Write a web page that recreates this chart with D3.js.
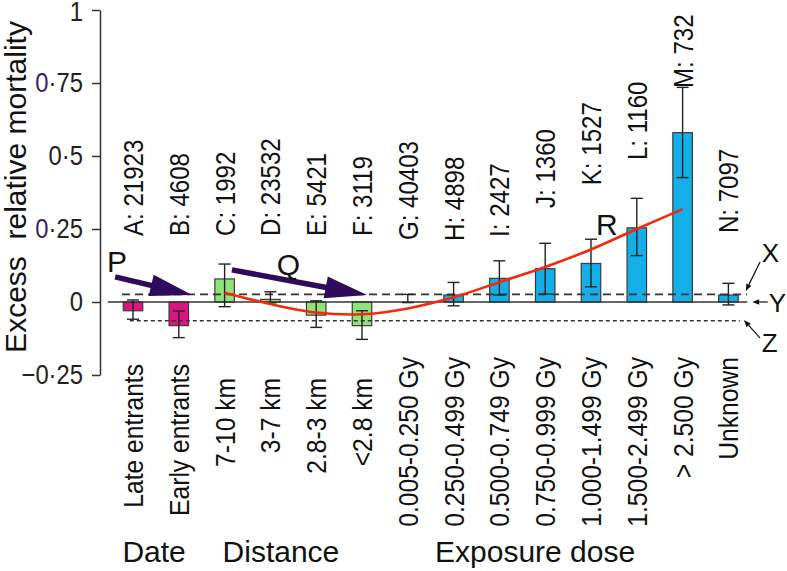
<!DOCTYPE html>
<html><head><meta charset="utf-8">
<script src="https://cdn.jsdelivr.net/npm/d3@7"></script>
<style>
body{margin:0;background:#fff}
svg text{font-family:"Liberation Sans",Arial,Helvetica,sans-serif}
</style>
</head><body>
<svg id="chart" width="787" height="571"></svg>
<script>
// ---------- data ----------
const categories = ["Late entrants","Early entrants","7-10 km","3-7 km","2.8-3 km","<2.8 km",
  "0.005-0.250 Gy","0.250-0.499 Gy","0.500-0.749 Gy","0.750-0.999 Gy","1.000-1.499 Gy",
  "1.500-2.499 Gy","> 2.500 Gy","Unknown"];
const countLabels = ["A: 21923","B: 4608","C: 1992","D: 23532","E: 5421","F: 3119","G: 40403",
  "H: 4898","I: 2427","J: 1360","K: 1527","L: 1160","M: 732","N: 7097"];
const groupOf = ["Date","Date","Distance","Distance","Distance","Distance","Dose","Dose","Dose",
  "Dose","Dose","Dose","Dose","Dose"];
const values  = [-0.030,-0.081,0.079,0.009,-0.045,-0.081,0.000,0.024,0.081,0.114,0.132,0.254,0.580,0.024];
const errLow  = [-0.059,-0.122,-0.016,-0.003,-0.087,-0.128,-0.002,-0.013,0.024,0.027,0.052,0.159,0.426,-0.010];
const errHigh = [0.007,-0.031,0.130,0.035,0.004,-0.030,0.026,0.067,0.141,0.201,0.215,0.355,0.735,0.064];
// fitted trend (red curve): category index and value
const fitIndex  = [2,3,4,5,6,7,8,9,10,11,12];
const fitValues = [0.032,-0.007,-0.036,-0.042,-0.022,0.016,0.068,0.120,0.180,0.250,0.318];
// reference lines
const upperRef = 0.026;   // X
const lowerRef = -0.064;  // Z
// y axis
const yTicks = [1,0.75,0.5,0.25,0,-0.25];
const yTickLabels = ["1","0·75","0·5","0·25","0","−0·25"];
// count label anchors (value units)
const countLabelAt = [0.226,0.226,0.226,0.226,0.226,0.226,0.212,0.209,0.223,0.322,0.400,0.486,0.733,0.236];
// group titles: name and centre (category index units)
const groupNames = ["Date","Distance","Exposure dose"];
const groupCentres = [0.46,3.23,8.78];

// ---------- setup ----------
const svg = d3.select("#chart");
const W = 787, H = 571;
svg.append("rect").attr("width",W).attr("height",H).attr("fill","#fff");

const xi = d3.scaleLinear().domain([0,13]).range([133,728.4]);
const y = d3.scaleLinear().domain([-0.25,1]).range([375,10]);
const bw = 19.5;
const colour = {Date:"#dc1481", Distance:"#92e27a", Dose:"#14aee8"};
const catLabelTop = {Date:364, Distance:378, Dose:357};
const ink = "#222";

// y axis
const yAxis = d3.axisLeft(y).tickValues(yTicks).tickSize(8).tickSizeOuter(0).tickPadding(9)
  .tickFormat((d,i)=>yTickLabels[i]);
const gy = svg.append("g").attr("transform","translate(100,0)").call(yAxis);
gy.select(".domain").attr("stroke","#333").attr("stroke-width",1.5);
gy.selectAll(".tick line").attr("stroke","#333").attr("stroke-width",1.5);
gy.selectAll(".tick text").style("font-size","28px").attr("fill","#222")
  .each(function(d,i){
    const t = d3.select(this); const lab = yTickLabels[i];
    const x0 = +t.attr("x");
    t.attr("x",0).attr("transform",`translate(${x0},${d===1?1.5:0}) scale(0.85,1)`);
    if (d===0.75 || d===0.25){
      t.text(null);
      t.append("tspan").attr("fill","#3b1d6e").text(lab[0]);
      t.append("tspan").text(lab.slice(1));
    }
  });

// y title
svg.append("text")
  .attr("transform","translate(26,187) rotate(-90)")
  .attr("text-anchor","middle").style("font-size","30px").style("white-space","pre")
  .attr("fill","#111").text("Excess  relative mortality");

// bars
svg.append("g").selectAll("rect").data(values).join("rect")
  .attr("x",(d,i)=>xi(i)-bw/2)
  .attr("y",d=>y(Math.max(d,0)))
  .attr("width",bw)
  .attr("height",d=>Math.abs(y(d)-y(0)))
  .attr("fill",(d,i)=>colour[groupOf[i]])
  .attr("stroke","#3a3a3a").attr("stroke-width",1.2);

// reference lines
svg.append("line").attr("x1",xi(-0.546)).attr("x2",xi(13.41)).attr("y1",y(0)).attr("y2",y(0))
  .attr("stroke","#333").attr("stroke-width",1.5);
svg.append("line").attr("x1",xi(-0.24)).attr("x2",xi(13.41)).attr("y1",y(upperRef)).attr("y2",y(upperRef))
  .attr("stroke","#333").attr("stroke-width",1.6).attr("stroke-dasharray","8,5");
svg.append("line").attr("x1",xi(-0.07)).attr("x2",xi(13.25)).attr("y1",y(lowerRef)).attr("y2",y(lowerRef))
  .attr("stroke","#333").attr("stroke-width",1.5).attr("stroke-dasharray","4,3");

// error bars
const ge = svg.append("g").attr("stroke",ink).attr("stroke-width",1.4);
values.forEach((v,i)=>{
  const cx = xi(i);
  ge.append("line").attr("x1",cx).attr("x2",cx).attr("y1",y(errLow[i])).attr("y2",y(errHigh[i]));
  ge.append("line").attr("x1",cx-6).attr("x2",cx+6).attr("y1",y(errLow[i])).attr("y2",y(errLow[i]));
  ge.append("line").attr("x1",cx-6).attr("x2",cx+6).attr("y1",y(errHigh[i])).attr("y2",y(errHigh[i]));
});

// red trend curve
const fit = fitIndex.map((k,j)=>[k,fitValues[j]]);
svg.append("path").datum(fit)
  .attr("d",d3.line().x(d=>xi(d[0])).y(d=>y(d[1])).curve(d3.curveCatmullRom.alpha(0.5)))
  .attr("fill","none").attr("stroke","#f5280c").attr("stroke-width",2.6);

// count labels (top)
svg.append("g").selectAll("text").data(countLabels).join("text")
  .attr("transform",(d,i)=>`translate(${xi(i)},${y(countLabelAt[i])}) rotate(-90) scale(0.86,1)`)
  .attr("dy","0.36em").attr("text-anchor","start").style("font-size","28px").attr("fill","#111")
  .text(d=>d);

// category labels (bottom)
svg.append("g").selectAll("text").data(categories).join("text")
  .attr("transform",(d,i)=>`translate(${xi(i)},${catLabelTop[groupOf[i]]}) rotate(-90) scale(0.88,1)`)
  .attr("dy","0.36em").attr("text-anchor","end").style("font-size","28px").attr("fill","#111")
  .text(d=>d);

// group titles
svg.append("g").selectAll("text").data(groupNames).join("text")
  .attr("x",(d,i)=>xi(groupCentres[i])).attr("y",562)
  .attr("text-anchor","middle").style("font-size","30px").attr("fill","#111").text(d=>d);

// ---------- annotations ----------
const arrowCol = "#2e0b5c";
function bigArrow(i0,v0,i1,v1){
  const x0=xi(i0), y0=y(v0), x1=xi(i1), y1=y(v1);
  const dx=x1-x0, dy=y1-y0, L=Math.hypot(dx,dy), ux=dx/L, uy=dy/L, nx=-uy, ny=ux;
  const hl=42, hw=11;
  const bx=x1-ux*hl, by=y1-uy*hl;
  svg.append("line").attr("x1",x0).attr("y1",y0).attr("x2",bx+ux*2).attr("y2",by+uy*2)
    .attr("stroke",arrowCol).attr("stroke-width",5.5);
  svg.append("path").attr("d",`M${x1},${y1}L${bx+nx*hw},${by+ny*hw}L${bx-nx*hw},${by-ny*hw}Z`)
    .attr("fill",arrowCol);
}
bigArrow(-0.39,0.086,1.29,0.024);
bigArrow(2.16,0.110,5.11,0.024);

function letter(t,i,v,size){
  svg.append("text").attr("x",xi(i)).attr("y",y(v)).style("font-size",size+"px").attr("fill","#111").text(t);
}
letter("P",-0.57,0.103,30);
letter("Q",3.14,0.092,30);
letter("R",10.11,0.229,30);
letter("X",13.73,0.137,26);
letter("Y",13.88,-0.034,26);
letter("Z",13.73,-0.171,26);

function thinArrow(i0,v0,i1,v1){
  const x0=xi(i0), y0=y(v0), x1=xi(i1), y1=y(v1);
  const dx=x1-x0, dy=y1-y0, L=Math.hypot(dx,dy), ux=dx/L, uy=dy/L, nx=-uy, ny=ux;
  const hl=7, hw=2.8, bx=x1-ux*hl, by=y1-uy*hl;
  svg.append("line").attr("x1",x0).attr("y1",y0).attr("x2",bx).attr("y2",by)
    .attr("stroke","#111").attr("stroke-width",1.2);
  svg.append("path").attr("d",`M${x1},${y1}L${bx+nx*hw},${by+ny*hw}L${bx-nx*hw},${by-ny*hw}Z`)
    .attr("fill","#111");
}
thinArrow(13.69,0.137,13.38,0.038);
thinArrow(13.86,0.0,13.52,0.0);
thinArrow(13.69,-0.123,13.34,-0.062);
</script>
</body></html>
